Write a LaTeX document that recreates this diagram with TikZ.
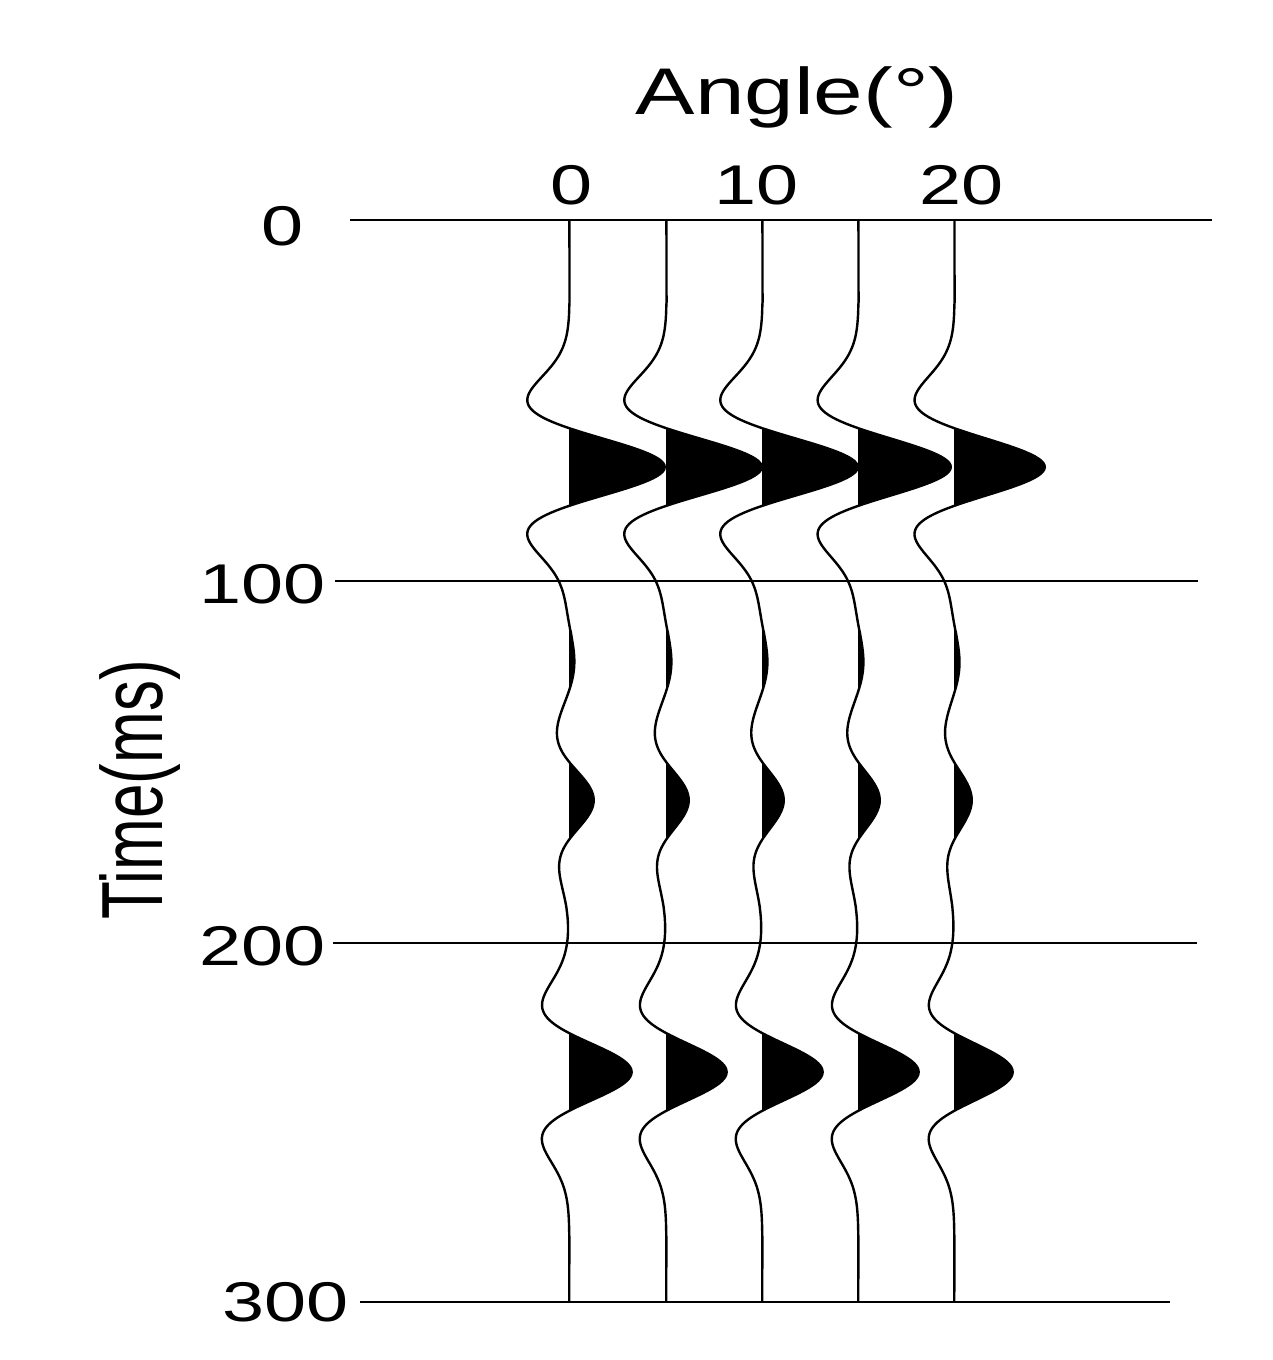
\documentclass[tikz,border=0pt]{standalone}
\usepackage{fontspec}
\setmainfont{Liberation Sans}
\begin{document}
\begin{tikzpicture}[x=1pt,y=-1pt,line width=2.4pt,
  declare function={rk(\t)=(1-2*(0.0183*\t)^2)*exp(-(0.0183*\t)^2);},
  lbl/.style={font=\fontsize{56}{56}\selectfont,inner sep=0pt,xscale=1.35}]
\useasboundingbox (0,0) rectangle (1272,1360);
% horizontal lines
\coordinate (h0a) at (350,220); \coordinate (h0b) at (1212,220);
\coordinate (h1a) at (335,581); \coordinate (h1b) at (1198,581);
\coordinate (h2a) at (333,943); \coordinate (h2b) at (1197,943);
\coordinate (h3a) at (360,1302); \coordinate (h3b) at (1170,1302);
\draw (h0a)--(h0b); \draw (h1a)--(h1b); \draw (h2a)--(h2b); \draw (h3a)--(h3b);
% traces
\foreach \xx/\A/\B/\C in {570/95/24/62, 667/95/22/60, 763/95/21/60, 859/92/21/60, 955/90/17/58}{
  \begin{scope}
    \clip (\xx-1,220) rectangle (\xx+200,1302);
    \fill plot[domain=220:1302,samples=500] ({\xx+\A*rk(\x-467)+5*rk(\x-665)+\B*rk(\x-800)+\C*rk(\x-1072)},\x) -- (\xx-2,1302) -- (\xx-2,220) -- cycle;
  \end{scope}
  \draw plot[domain=220:1302,samples=500] ({\xx+\A*rk(\x-467)+5*rk(\x-665)+\B*rk(\x-800)+\C*rk(\x-1072)},\x);
}
\node[lbl,font=\fontsize{66}{66}\selectfont] (t) at (797,97) {Angle(°)};
\node[lbl] (a0) at (572,185) {0};
\node[lbl] (a10) at (757,185) {10};
\node[lbl] (a20) at (962,185) {20};
\node[lbl,anchor=east] (y0) at (305,226) {0};
\node[lbl,anchor=east] (y1) at (327,584) {100};
\node[lbl,anchor=east] (y2) at (327,946) {200};
\node[lbl,anchor=east] (y3) at (350,1302) {300};
\node[font=\fontsize{62}{62}\selectfont,inner sep=0pt,rotate=90,yscale=1.4] (yt) at (140,790) {Time(ms)};
\end{tikzpicture}
\end{document}
